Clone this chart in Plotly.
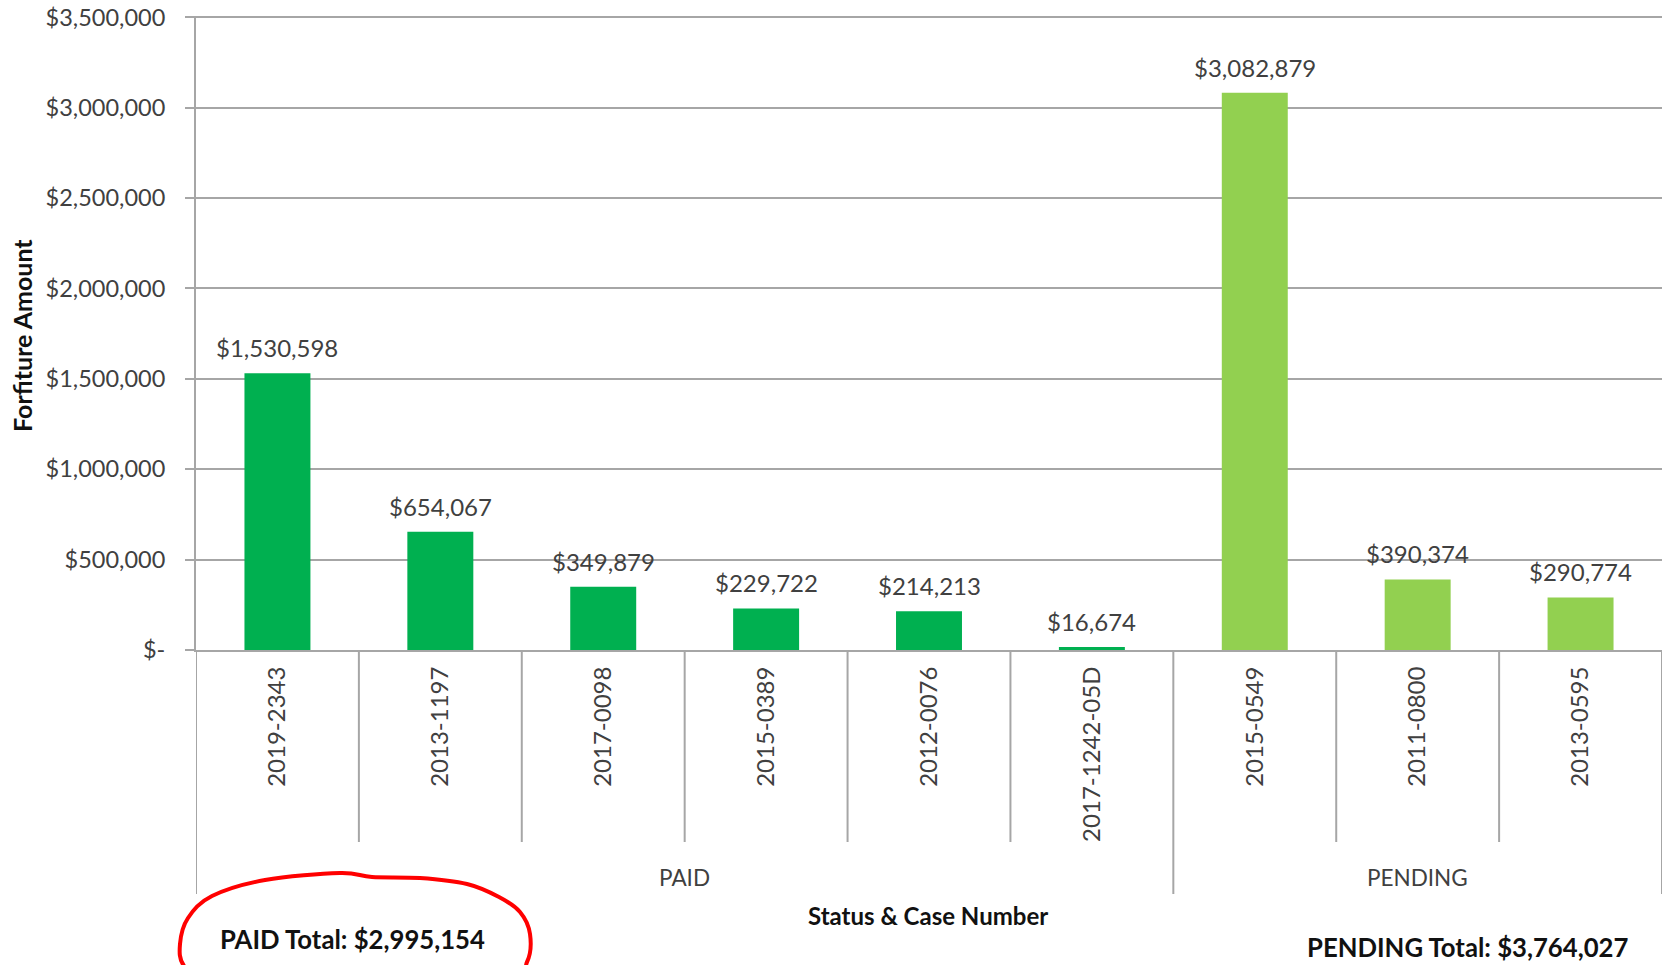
import plotly.graph_objects as go

# ---- data ----
statuses = ["PAID", "PAID", "PAID", "PAID", "PAID", "PAID", "PENDING", "PENDING", "PENDING"]
cases = ["2019-2343", "2013-1197", "2017-0098", "2015-0389", "2012-0076", "2017-1242-05D",
         "2015-0549", "2011-0800", "2013-0595"]
amounts = [1530598, 654067, 349879, 229722, 214213, 16674, 3082879, 390374, 290774]
groups = ["PAID", "PENDING"]
group_totals = ["PAID Total: $2,995,154", "PENDING Total: $3,764,027"]
ytick_vals = [0, 500000, 1000000, 1500000, 2000000, 2500000, 3000000, 3500000]
ytick_text = ["$-", "$500,000", "$1,000,000", "$1,500,000", "$2,000,000",
              "$2,500,000", "$3,000,000", "$3,500,000"]
status_colors = {"PAID": "#00B050", "PENDING": "#92D050"}

FONT = "Lato"
TXT = "#404040"
GRID = "#a6a6a6"

# body margin is removed in the page, so the figure fills the window
W, H = 1665, 965
PLOT_L, PLOT_R, PLOT_T, PLOT_B = 196, 1662, 16, 650   # in window pixels
ML, MR, MT, MB = PLOT_L, W - PLOT_R, PLOT_T, H - PLOT_B
PW, PH = PLOT_R - PLOT_L, PLOT_B - PLOT_T
YMAX = ytick_vals[-1] * 1.002   # tiny headroom so the top gridline is drawn


def px_x(px):
    return (px - PLOT_L) / PW


def px_y(py):
    return (PLOT_B - py) / PH


fig = go.Figure()
fig.add_trace(go.Bar(
    x=cases, y=amounts,
    marker=dict(color=[status_colors[s] for s in statuses], line=dict(width=0)),
    width=0.405, hoverinfo="x+y", showlegend=False,
))

annotations = []
# value labels above bars
for c, v in zip(cases, amounts):
    annotations.append(dict(x=c, y=v, xref="x", yref="y", text=f"${v:,.0f}",
                            showarrow=False, yanchor="bottom", yshift=9,
                            font=dict(family=FONT, size=24, color=TXT)))

shapes = []
n = len(cases)
# category dividers (longer at group edges)
for i in range(n + 1):
    is_group_edge = (i == 0 or i == n or statuses[i - 1] != statuses[i])
    bottom_px = 894 if is_group_edge else 842
    shapes.append(dict(type="line", xref="x", yref="paper",
                       x0=i - 0.5, x1=i - 0.5, y0=0, y1=px_y(bottom_px),
                       line=dict(color=GRID, width=2)))

# group labels
for g in groups:
    idx = [i for i, s in enumerate(statuses) if s == g]
    mid = (idx[0] + idx[-1]) / 2
    annotations.append(dict(x=mid, y=px_y(877), xref="x", yref="paper", text=g,
                            showarrow=False, yanchor="middle",
                            font=dict(family=FONT, size=22.5, color=TXT)))

annotations.append(dict(x=px_x(218), y=px_y(939), xref="paper", yref="paper",
                        text="<b>" + group_totals[0] + "</b>", showarrow=False,
                        xanchor="left", yanchor="middle",
                        font=dict(family=FONT, size=25.7, color="#111111")))
annotations.append(dict(x=px_x(1630), y=px_y(947), xref="paper", yref="paper",
                        text="<b>" + group_totals[1] + "</b>", showarrow=False,
                        xanchor="right", yanchor="middle",
                        font=dict(family=FONT, size=25.7, color="#111111")))
annotations.append(dict(x=px_x(928), y=px_y(915), xref="paper", yref="paper",
                        text="<b>Status &amp; Case Number</b>", showarrow=False,
                        xanchor="center", yanchor="middle",
                        font=dict(family=FONT, size=24, color="#111111")))
annotations.append(dict(x=px_x(22), y=px_y(336), xref="paper", yref="paper",
                        text="<b>Forfiture Amount</b>", showarrow=False, textangle=-90,
                        xanchor="center", yanchor="middle",
                        font=dict(family=FONT, size=25, color="#111111")))

# hand-drawn red loop around PAID total (window pixels)
loop_px = [(340, 873), (372, 877), (420, 878), (467, 884), (499, 897), (520, 912),
           (530, 934), (527, 962), (505, 985), (355, 996), (210, 986), (184, 966),
           (180, 944), (188, 918), (212, 896), (265, 880)]


def smooth_closed_path(pts):
    m = len(pts)
    P = [(px_x(a), px_y(b)) for a, b in pts]
    d = f"M {P[0][0]},{P[0][1]}"
    for i in range(m):
        p0, p1, p2, p3 = P[i - 1], P[i], P[(i + 1) % m], P[(i + 2) % m]
        c1 = (p1[0] + (p2[0] - p0[0]) / 6, p1[1] + (p2[1] - p0[1]) / 6)
        c2 = (p2[0] - (p3[0] - p1[0]) / 6, p2[1] - (p3[1] - p1[1]) / 6)
        d += f" C {c1[0]},{c1[1]} {c2[0]},{c2[1]} {p2[0]},{p2[1]}"
    return d + " Z"


shapes.append(dict(type="path", xref="paper", yref="paper",
                   path=smooth_closed_path(loop_px),
                   line=dict(color="#ff0000", width=4)))

fig.update_layout(
    width=W, height=H,
    margin=dict(l=ML, r=MR, t=MT, b=MB, autoexpand=False),
    paper_bgcolor="white", plot_bgcolor="white",
    annotations=annotations, shapes=shapes,
    showlegend=False,
    font=dict(family=FONT, color=TXT),
)
fig.update_xaxes(
    type="category", categoryorder="array", categoryarray=cases,
    range=[-0.5, n - 0.5],
    showgrid=False, zeroline=False,
    showline=True, linecolor=GRID, linewidth=2,
    ticks="", tickangle=-90, ticklabelstandoff=5,
    tickfont=dict(family=FONT, size=24, color=TXT),
)
fig.update_yaxes(
    range=[0, YMAX],
    tickvals=ytick_vals, ticktext=ytick_text,
    showgrid=True, gridcolor=GRID, gridwidth=2,
    zeroline=False,
    showline=True, linecolor=GRID, linewidth=2,
    ticks="outside", ticklen=9, tickcolor=GRID, tickwidth=2,
    ticklabelstandoff=15, ticklabeloverflow="allow",
    tickfont=dict(family=FONT, size=23.5, color=TXT),
)

fig.write_html("out.html", config={"displayModeBar": False},
               post_script="document.body.style.margin='0';document.body.style.overflow='hidden';")
